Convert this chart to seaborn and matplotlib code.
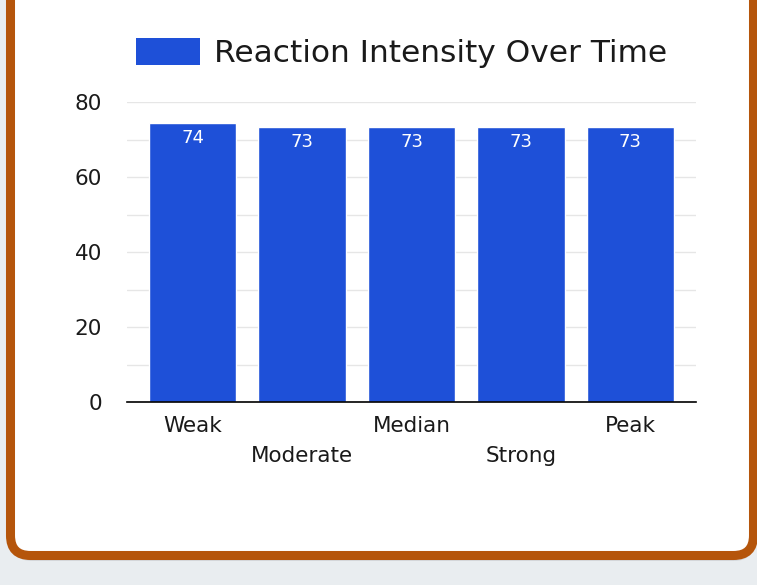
import matplotlib
matplotlib.use("Agg")
import matplotlib.pyplot as plt
import seaborn as sns
import pandas as pd
from matplotlib.patches import FancyBboxPatch
from matplotlib.legend_handler import HandlerPatch

# -------------------------------------------------
# Data
# -------------------------------------------------
categories = ["Weak", "Moderate", "Median", "Strong", "Peak"]
values = [74.4, 73.3, 73.3, 73.3, 73.3]
series_name = "Reaction Intensity Over Time"
y_ticks = [0, 20, 40, 60, 80]

df = pd.DataFrame({"category": categories, "value": values})

bar_color = "#1e50d8"
border_color = "#b5550b"

sns.set_theme(style="white")
plt.rcParams["font.family"] = ["DejaVu Sans"]

fig = plt.figure(figsize=(7.57, 5.85), dpi=100)
fig.patch.set_facecolor("#e9edf0")

# -------------------------------------------------
# Card background (pixel coords)
# -------------------------------------------------
bg = fig.add_axes([0, 0, 1, 1], zorder=-1)
bg.set_xlim(0, 757)
bg.set_ylim(0, 585)
bg.axis("off")
shadow = FancyBboxPatch((12, 24), 742, 900, boxstyle="round,pad=0,rounding_size=20",
                        facecolor="#c9cdd1", edgecolor="none", alpha=0.6)
bg.add_patch(shadow)
card = FancyBboxPatch((10.5, 29.5), 743, 900, boxstyle="round,pad=0,rounding_size=20",
                      facecolor="white", edgecolor=border_color, linewidth=6.5)
bg.add_patch(card)

# -------------------------------------------------
# Bar chart
# -------------------------------------------------
ax = fig.add_axes([127 / 757, 1 - 402 / 585, (696 - 127) / 757, 300 / 585])
ax.set_facecolor("none")
sns.barplot(data=df, x="category", y="value", color=bar_color, saturation=1,
            width=0.8, ax=ax, label=series_name)

ax.set_ylim(0, 80)
ax.set_xlim(-0.6, len(categories) - 0.4)
ax.set_yticks(y_ticks)
ax.set_yticks([10, 30, 50, 70], minor=True)
ax.grid(axis="y", which="both", color="#e6e6e6", linewidth=1)
ax.set_axisbelow(True)
for s in ["left", "right", "top"]:
    ax.spines[s].set_visible(False)
ax.spines["bottom"].set_color("black")
ax.spines["bottom"].set_linewidth(1.2)
ax.tick_params(axis="both", which="both", length=0, labelsize=15.5, colors="#1a1a1a")
ax.tick_params(axis="y", pad=18)
ax.tick_params(axis="x", pad=10)
ax.set_xticks(range(len(categories)))
ax.set_xticklabels([c if i % 2 == 0 else "\n" + c for i, c in enumerate(categories)],
                   linespacing=1.65)
ax.set_xlabel("")
ax.set_ylabel("")

for p, v in zip(ax.patches, values):
    ax.annotate(f"{v:.0f}", (p.get_x() + p.get_width() / 2, p.get_height()),
                xytext=(0, -4), textcoords="offset points",
                ha="center", va="top", color="white", fontsize=13)


def rounded_handle(legend, orig_handle, xdescent, ydescent, width, height, fontsize):
    return FancyBboxPatch((-xdescent, -ydescent), width, height,
                          boxstyle="round,pad=0,rounding_size=3")


leg = ax.legend(loc="center", bbox_to_anchor=(0.483, 1 + 49 / 300), frameon=False,
                fontsize=22.5, handlelength=2.05, handleheight=0.95, handletextpad=0.45,
                labelcolor="#1a1a1a",
                handler_map={matplotlib.patches.Rectangle: HandlerPatch(patch_func=rounded_handle)})
for h in leg.legend_handles:
    h.set_edgecolor("none")
    h.set_facecolor(bar_color)

fig.savefig("out.png", dpi=100, facecolor=fig.get_facecolor())
